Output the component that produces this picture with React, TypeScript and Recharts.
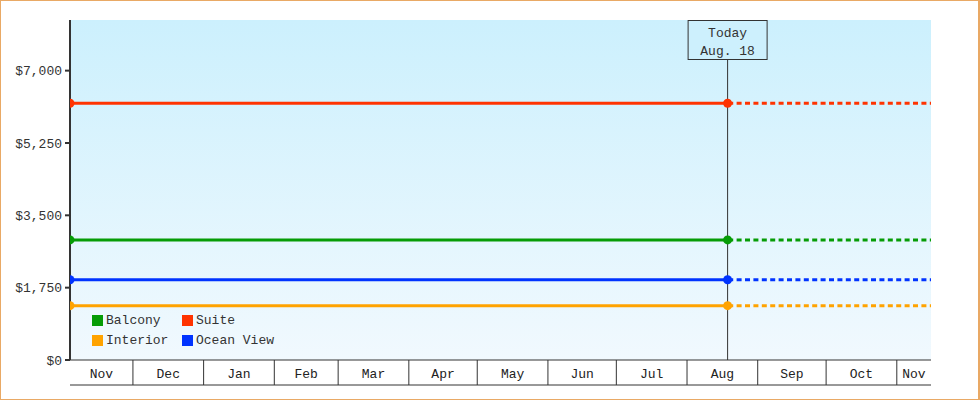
import React from 'react';
import {
  LineChart,
  Line,
  XAxis,
  YAxis,
  CartesianGrid,
  ReferenceLine,
  Legend,
} from 'recharts';

// ---- data ----
// x values are days counted from Nov 1 of the first year
const monthLabels = ['Nov', 'Dec', 'Jan', 'Feb', 'Mar', 'Apr', 'May', 'Jun', 'Jul', 'Aug', 'Sep', 'Oct', 'Nov'];
const monthStartDays = [0, 30, 61, 92, 120, 151, 181, 212, 242, 273, 304, 334, 365];
const rangeStart = 2.4;
const rangeEnd = 380;
const todayDay = 290.8;
const todayLabel = ['Today', 'Aug. 18'];

const yTicks = [0, 1750, 3500, 5250, 7000];
const yMax = 8225;

const seriesNames = ['Balcony', 'Suite', 'Interior', 'Ocean View'];
const seriesKeys = ['balcony', 'suite', 'interior', 'ocean'];
const seriesColors = ['#069c06', '#ff3300', '#ffa300', '#0033ff'];
const seriesValues = [2905, 6210, 1315, 1940];

// table built from the arrays: current (solid) up to today, projected (dashed) after
const xPoints = [rangeStart, todayDay, rangeEnd];
const chartData = xPoints.map((x, i) => {
  const row: Record<string, number | null> = { x };
  seriesKeys.forEach((k, s) => {
    row[k] = i < 2 ? seriesValues[s] : null;
    row[k + 'Future'] = i > 0 ? seriesValues[s] : null;
  });
  return row;
});

// tick boundaries (visible) and label positions at middle of visible segment
const boundaryTicks = monthStartDays.filter((d) => d >= rangeStart && d <= rangeEnd);
const segs: { mid: number; label: string }[] = [];
monthStartDays.forEach((d, i) => {
  const a = Math.max(d, rangeStart);
  const b = Math.min(i + 1 < monthStartDays.length ? monthStartDays[i + 1] : rangeEnd, rangeEnd);
  if (b > a) segs.push({ mid: (a + b) / 2, label: monthLabels[i] });
});
const labelTicks = segs.map((s) => s.mid);

const FONT = '"Liberation Mono", "DejaVu Sans Mono", monospace';
const INK = '#333333';

const fmtMoney = (v: number) => '$' + v.toLocaleString('en-US');

const TodayLabel = (props: any) => {
  const vb = props.viewBox || {};
  const cx = vb.x;
  const top = vb.y;
  return (
    <g>
      <rect x={cx - 39.5} y={top + 0.5} width={79} height={39} fill="#cdf0fd" stroke={INK} strokeWidth={1} />
      <text x={cx} y={top + 17} textAnchor="middle" fontFamily={FONT} fontSize={13} fill={INK}>
        {todayLabel[0]}
      </text>
      <text x={cx} y={top + 35} textAnchor="middle" fontFamily={FONT} fontSize={13} fill={INK}>
        {todayLabel[1]}
      </text>
    </g>
  );
};

// separator tick: vertical line rising from the bottom line up to the axis line
const SepTick = (props: any) => {
  const { x, y } = props;
  return <line x1={x} y1={y - 25} x2={x} y2={y} stroke={INK} strokeWidth={1} />;
};

const MonthTick = (props: any) => {
  const { x, y, index } = props;
  const s = segs[index];
  return (
    <text x={x} y={y + 18} textAnchor="middle" fontFamily={FONT} fontSize={13} fill="#222">
      {s ? s.label : ''}
    </text>
  );
};

const LegendContent = () => (
  <div
    style={{
      display: 'grid',
      gridTemplateColumns: '90px 110px',
      rowGap: 4,
      fontFamily: FONT,
      fontSize: 13,
      color: INK,
    }}
  >
    {seriesNames.map((n, i) => (
      <div key={n} style={{ display: 'flex', alignItems: 'center', height: 16 }}>
        <span style={{ width: 11, height: 11, background: seriesColors[i], marginRight: 3, display: 'inline-block' }} />
        <span>{n}</span>
      </div>
    ))}
  </div>
);

export default function App() {
  return (
    <div style={{ position: 'absolute', left: 0, top: 0, width: 980, height: 400, background: '#fff' }}>
      <LineChart
        width={980}
        height={400}
        data={chartData}
        margin={{ top: 20, right: 49, left: 0, bottom: 0 }}
      >
        <defs>
          <linearGradient id="bgGrad" x1="0" y1="0" x2="0" y2="1">
            <stop offset="0%" stopColor="#ccf0fd" />
            <stop offset="100%" stopColor="#f1f9fe" />
          </linearGradient>
        </defs>
        <CartesianGrid horizontal={false} vertical={false} fill="url(#bgGrad)" />
        <XAxis
          xAxisId="sep"
          dataKey="x"
          type="number"
          domain={[rangeStart, rangeEnd]}
          allowDataOverflow
          ticks={boundaryTicks}
          interval={0}
          height={15}
          tickSize={0}
          tickMargin={0}
          tickLine={false}
          tick={<SepTick />}
          axisLine={{ stroke: INK, strokeWidth: 1 }}
        />
        <XAxis
          xAxisId="labels"
          dataKey="x"
          type="number"
          domain={[rangeStart, rangeEnd]}
          allowDataOverflow
          ticks={labelTicks}
          interval={0}
          height={25}
          tickLine={false}
          tickSize={0}
          tickMargin={0}
          axisLine={{ stroke: INK, strokeWidth: 1 }}
          tick={<MonthTick />}
        />
        <YAxis
          type="number"
          domain={[0, yMax]}
          ticks={yTicks}
          interval={0}
          width={70}
          tickSize={5}
          tickMargin={3}
          tickFormatter={fmtMoney}
          axisLine={{ stroke: INK, strokeWidth: 2 }}
          tickLine={{ stroke: INK, strokeWidth: 2 }}
          tick={{ fill: INK, fontSize: 13, fontFamily: FONT }}
          allowDataOverflow
        />
        <ReferenceLine
          xAxisId="labels"
          x={todayDay}
          stroke={INK}
          strokeWidth={1}
          label={<TodayLabel />}
        />
        {seriesKeys.map((k, i) => (
          <Line
            key={k + 'Future'}
            xAxisId="labels"
            dataKey={k + 'Future'}
            stroke={seriesColors[i]}
            strokeWidth={3}
            strokeDasharray="5 3.4"
            strokeDashoffset={-9}
            dot={false}
            activeDot={false}
            isAnimationActive={false}
            legendType="none"
          />
        ))}
        {seriesKeys.map((k, i) => (
          <Line
            key={k}
            xAxisId="labels"
            dataKey={k}
            name={seriesNames[i]}
            stroke={seriesColors[i]}
            strokeWidth={3}
            dot={{ r: 4.5, fill: seriesColors[i], stroke: seriesColors[i], strokeWidth: 0 }}
            activeDot={false}
            isAnimationActive={false}
          />
        ))}
        <Legend
          layout="horizontal"
          verticalAlign="middle"
          align="center"
          content={<LegendContent />}
          wrapperStyle={{ left: 92, top: 312, width: 220 }}
        />
      </LineChart>
      <div
        style={{
          position: 'absolute',
          left: 0,
          top: 0,
          width: 980,
          height: 400,
          boxSizing: 'border-box',
          border: '1px solid #e9a965',
          borderRightWidth: 2,
          pointerEvents: 'none',
        }}
      />
    </div>
  );
}
